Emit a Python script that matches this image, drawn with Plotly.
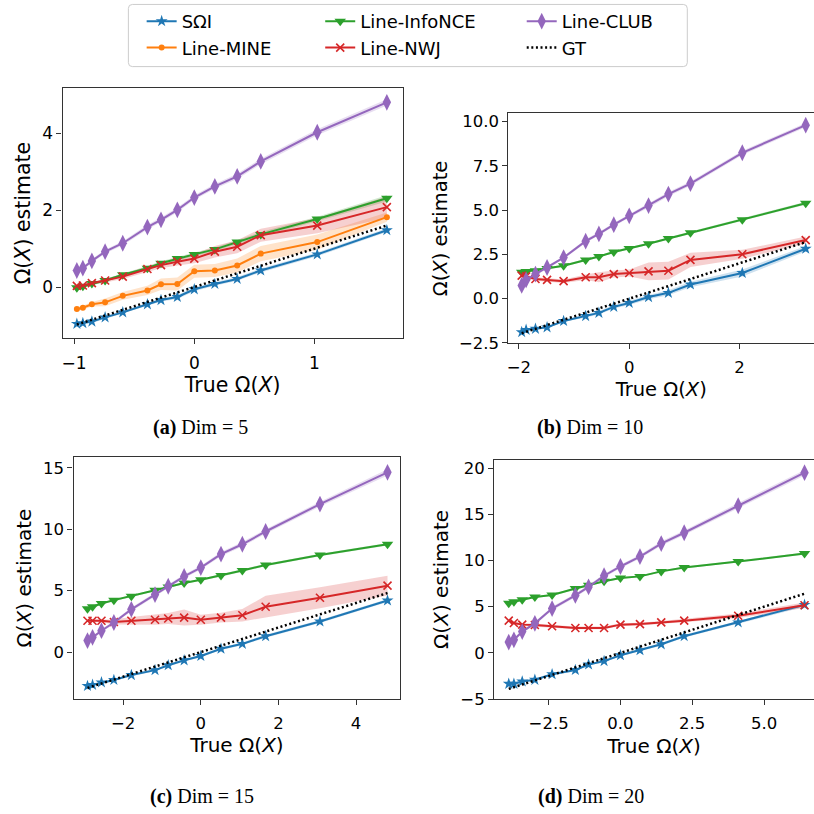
import plotly.graph_objects as go

W = H = 814

# ---- estimator colours / names -------------------------------------------
SERIES = ["SΩI", "Line-MINE", "Line-InfoNCE", "Line-NWJ", "Line-CLUB"]
COLORS = {"SΩI": "#1f77b4", "Line-MINE": "#ff7f0e", "Line-InfoNCE": "#2ca02c",
          "Line-NWJ": "#d62728", "Line-CLUB": "#9467bd"}

# ---- true Ω(X) for each dimension -----------------------------------------
true_d5 = [-0.977, -0.927, -0.852, -0.742, -0.595, -0.39, -0.277, -0.141, 0.0, 0.171, 0.357, 0.553, 1.023, 1.602]
true_d10 = [-1.95, -1.87, -1.70, -1.49, -1.19, -0.79, -0.55, -0.28, 0.0, 0.35, 0.71, 1.11, 2.05, 3.20]
true_d15 = [-2.92, -2.79, -2.56, -2.24, -1.79, -1.18, -0.84, -0.43, 0.0, 0.52, 1.07, 1.67, 3.07, 4.81]
true_d20 = [-3.89, -3.71, -3.42, -2.98, -2.38, -1.57, -1.11, -0.57, 0.0, 0.68, 1.42, 2.22, 4.10, 6.41]

# ---- mean estimates ---------------------------------------------------------
sqi_d5 = [-0.96, -0.94, -0.90, -0.79, -0.66, -0.45, -0.34, -0.26, -0.06, 0.08, 0.21, 0.43, 0.85, 1.48]
mine_d5 = [-0.57, -0.54, -0.45, -0.40, -0.23, -0.09, 0.07, 0.08, 0.41, 0.43, 0.56, 0.87, 1.17, 1.82]
infonce_d5 = [-0.02, 0.02, 0.09, 0.17, 0.32, 0.49, 0.62, 0.74, 0.85, 0.98, 1.17, 1.37, 1.77, 2.31]
nwj_d5 = [0.03, 0.04, 0.10, 0.17, 0.27, 0.47, 0.57, 0.66, 0.74, 0.92, 1.05, 1.35, 1.60, 2.08]
club_d5 = [0.43, 0.49, 0.68, 0.92, 1.14, 1.56, 1.75, 2.01, 2.33, 2.62, 2.88, 3.27, 4.03, 4.81]

sqi_d10 = [-1.89, -1.76, -1.70, -1.62, -1.26, -0.98, -0.80, -0.46, -0.24, 0.09, 0.33, 0.80, 1.45, 2.82]
infonce_d10 = [1.49, 1.53, 1.58, 1.70, 1.86, 2.19, 2.38, 2.64, 2.84, 3.10, 3.40, 3.72, 4.46, 5.39]
nwj_d10 = [1.30, 1.26, 1.11, 1.06, 0.99, 1.21, 1.21, 1.39, 1.45, 1.54, 1.58, 2.19, 2.51, 3.31]
club_d10 = [0.75, 1.06, 1.39, 1.76, 2.32, 3.25, 3.66, 4.18, 4.68, 5.26, 5.91, 6.50, 8.24, 9.80]

sqi_d15 = [-2.76, -2.67, -2.47, -2.27, -1.87, -1.47, -1.07, -0.67, -0.32, 0.27, 0.67, 1.29, 2.49, 4.20]
infonce_d15 = [3.53, 3.69, 3.96, 4.23, 4.55, 5.04, 5.30, 5.62, 5.89, 6.24, 6.64, 7.09, 7.90, 8.78]
nwj_d15 = [2.55, 2.55, 2.55, 2.45, 2.55, 2.63, 2.73, 2.81, 2.63, 2.81, 3.00, 3.69, 4.42, 5.41]
club_d15 = [0.94, 1.20, 1.74, 2.41, 3.48, 4.68, 5.36, 6.16, 6.88, 7.98, 8.78, 9.82, 12.05, 14.64]

sqi_d20 = [-3.34, -3.34, -3.09, -2.91, -2.31, -1.85, -1.25, -0.89, -0.25, 0.29, 0.93, 1.81, 3.30, 5.20]
infonce_d20 = [5.36, 5.54, 5.76, 6.04, 6.26, 6.96, 7.32, 7.75, 8.10, 8.28, 8.82, 9.24, 9.88, 10.75]
nwj_d20 = [3.49, 3.23, 3.06, 3.02, 2.88, 2.70, 2.70, 2.70, 3.06, 3.12, 3.30, 3.49, 4.02, 5.15]
club_d20 = [1.17, 1.42, 2.31, 3.20, 4.80, 6.22, 7.14, 8.35, 9.35, 10.42, 11.83, 13.00, 15.92, 19.50]

# ---- spread (half-width of shaded band) ------------------------------------
sqi_sd5 = [0.04, 0.04, 0.04, 0.04, 0.04, 0.04, 0.04, 0.05, 0.05, 0.05, 0.05, 0.05, 0.05, 0.05]
mine_sd5 = [0.05, 0.05, 0.06, 0.10, 0.10, 0.12, 0.15, 0.17, 0.17, 0.17, 0.18, 0.20, 0.20, 0.12]
infonce_sd5 = [0.04, 0.04, 0.04, 0.04, 0.04, 0.05, 0.05, 0.05, 0.05, 0.05, 0.06, 0.06, 0.06, 0.08]
nwj_sd5 = [0.03, 0.03, 0.04, 0.05, 0.06, 0.08, 0.08, 0.10, 0.12, 0.15, 0.17, 0.17, 0.20, 0.28]
club_sd5 = [0.05, 0.05, 0.05, 0.05, 0.05, 0.06, 0.06, 0.06, 0.06, 0.06, 0.07, 0.07, 0.08, 0.08]

sqi_sd10 = [0.05, 0.05, 0.05, 0.06, 0.06, 0.08, 0.10, 0.10, 0.12, 0.12, 0.14, 0.16, 0.20, 0.15]
infonce_sd10 = [0.05, 0.05, 0.05, 0.05, 0.05, 0.06, 0.06, 0.06, 0.06, 0.06, 0.07, 0.07, 0.08, 0.08]
nwj_sd10 = [0.10, 0.10, 0.10, 0.10, 0.10, 0.15, 0.28, 0.20, 0.20, 0.50, 0.50, 0.40, 0.25, 0.20]
club_sd10 = [0.08, 0.08, 0.08, 0.08, 0.08, 0.10, 0.10, 0.10, 0.10, 0.12, 0.12, 0.12, 0.12, 0.12]

sqi_sd15 = [0.08, 0.08, 0.08, 0.08, 0.10, 0.10, 0.10, 0.10, 0.10, 0.10, 0.12, 0.12, 0.12, 0.12]
infonce_sd15 = [0.08, 0.08, 0.08, 0.08, 0.08, 0.08, 0.08, 0.08, 0.08, 0.10, 0.10, 0.10, 0.10, 0.10]
nwj_sd15 = [0.10, 0.10, 0.12, 0.20, 0.30, 0.40, 0.45, 0.65, 0.40, 0.40, 0.50, 0.90, 0.85, 0.80]
club_sd15 = [0.12, 0.12, 0.12, 0.12, 0.15, 0.15, 0.15, 0.15, 0.15, 0.18, 0.18, 0.18, 0.20, 0.25]

sqi_sd20 = [0.10, 0.10, 0.10, 0.10, 0.12, 0.12, 0.12, 0.12, 0.12, 0.15, 0.15, 0.15, 0.15, 0.20]
infonce_sd20 = [0.10, 0.10, 0.10, 0.10, 0.10, 0.10, 0.10, 0.10, 0.10, 0.10, 0.10, 0.12, 0.12, 0.12]
nwj_sd20 = [0.15, 0.15, 0.15, 0.15, 0.15, 0.15, 0.15, 0.15, 0.15, 0.15, 0.15, 0.20, 0.25, 0.30]
club_sd20 = [0.15, 0.15, 0.15, 0.15, 0.20, 0.20, 0.20, 0.20, 0.20, 0.20, 0.25, 0.25, 0.30, 0.30]

# ---- tick labels -----------------------------------------------------------
xt_d5, xl_d5 = [-1, 0, 1], ["−1", "0", "1"]
yt_d5, yl_d5 = [0, 2, 4], ["0", "2", "4"]
xt_d10, xl_d10 = [-2, 0, 2], ["−2", "0", "2"]
yt_d10, yl_d10 = [-2.5, 0, 2.5, 5, 7.5, 10], ["−2.5", "0.0", "2.5", "5.0", "7.5", "10.0"]
xt_d15, xl_d15 = [-2, 0, 2, 4], ["−2", "0", "2", "4"]
yt_d15, yl_d15 = [0, 5, 10, 15], ["0", "5", "10", "15"]
xt_d20, xl_d20 = [-2.5, 0, 2.5, 5], ["−2.5", "0.0", "2.5", "5.0"]
yt_d20, yl_d20 = [-5, 0, 5, 10, 15, 20], ["−5", "0", "5", "10", "15", "20"]

captions = ["<b>(a)</b> Dim = 5", "<b>(b)</b> Dim = 10",
            "<b>(c)</b> Dim = 15", "<b>(d)</b> Dim = 20"]

# ---- panel assembly --------------------------------------------------------
def px_x(p):
    return p / W


def px_y(p):
    return 1 - p / H


panels = [
    dict(x=true_d5,
         est={"SΩI": (sqi_d5, sqi_sd5), "Line-MINE": (mine_d5, mine_sd5),
              "Line-InfoNCE": (infonce_d5, infonce_sd5), "Line-NWJ": (nwj_d5, nwj_sd5),
              "Line-CLUB": (club_d5, club_sd5)},
         xt=(xt_d5, xl_d5), yt=(yt_d5, yl_d5),
         dom=((60.7, 401.7), (88.3, 341.7)), xr=(-1.096, 1.734), yr=(-1.33, 5.18),
         mirror_y=True, cap=(199, 432), fs=(17, 20.5)),
    dict(x=true_d10,
         est={"SΩI": (sqi_d10, sqi_sd10), "Line-InfoNCE": (infonce_d10, infonce_sd10),
              "Line-NWJ": (nwj_d10, nwj_sd10), "Line-CLUB": (club_d10, club_sd10)},
         xt=(xt_d10, xl_d10), yt=(yt_d10, yl_d10),
         dom=((507.7, 814), (114, 347)), xr=(-2.19, 3.35), yr=(-2.52, 10.46),
         mirror_y=False, cap=(589, 432), fs=(16.5, 19.5)),
    dict(x=true_d15,
         est={"SΩI": (sqi_d15, sqi_sd15), "Line-InfoNCE": (infonce_d15, infonce_sd15),
              "Line-NWJ": (nwj_d15, nwj_sd15), "Line-CLUB": (club_d15, club_sd15)},
         xt=(xt_d15, xl_d15), yt=(yt_d15, yl_d15),
         dom=((71.7, 399.3), (462.7, 707.3)), xr=(-3.28, 5.14), yr=(-3.8, 15.85),
         mirror_y=True, cap=(200, 806), fs=(16.5, 20)),
    dict(x=true_d20,
         est={"SΩI": (sqi_d20, sqi_sd20), "Line-InfoNCE": (infonce_d20, infonce_sd20),
              "Line-NWJ": (nwj_d20, nwj_sd20), "Line-CLUB": (club_d20, club_sd20)},
         xt=(xt_d20, xl_d20), yt=(yt_d20, yl_d20),
         dom=((493.3, 814), (465, 707.7)), xr=(-4.4, 6.74), yr=(-5.0, 20.9),
         mirror_y=False, cap=(590, 806), fs=(16.5, 20)),
]

MARKERS = {
    "SΩI": dict(symbol="star", size=9),
    "Line-MINE": dict(symbol="circle", size=6),
    "Line-InfoNCE": dict(symbol="triangle-down", size=10),
    "Line-NWJ": dict(symbol="x-thin", size=8),
    "Line-CLUB": dict(symbol="diamond-tall", size=12),
}
LEGEND_OF = {"SΩI": "legend", "Line-MINE": "legend", "Line-InfoNCE": "legend2",
             "Line-NWJ": "legend2", "Line-CLUB": "legend3", "GT": "legend3"}


def rgba(hex_color, a):
    h = hex_color.lstrip("#")
    r, g, b = int(h[0:2], 16), int(h[2:4], 16), int(h[4:6], 16)
    return f"rgba({r},{g},{b},{a})"


fig = go.Figure()
layout_axes = {}

for i, p in enumerate(panels):
    n = "" if i == 0 else str(i + 1)
    xa, ya = "x" + n, "y" + n
    xs = p["x"]
    # shaded spread bands first
    for name in SERIES:
        if name not in p["est"]:
            continue
        m, sd = p["est"][name]
        up = [a + b for a, b in zip(m, sd)]
        lo = [a - b for a, b in zip(m, sd)]
        fig.add_trace(go.Scatter(
            x=xs + xs[::-1], y=up + lo[::-1], fill="toself",
            fillcolor=rgba(COLORS[name], 0.22), line=dict(width=0),
            hoverinfo="skip", showlegend=False, xaxis=xa, yaxis=ya))
    # mean curves
    for name in SERIES:
        if name not in p["est"]:
            continue
        m, _ = p["est"][name]
        mk = dict(MARKERS[name], color=COLORS[name])
        if name == "Line-NWJ":
            mk["line"] = dict(color=COLORS[name], width=1.6)
        fig.add_trace(go.Scatter(
            x=xs, y=m, mode="lines+markers", name=name,
            line=dict(color=COLORS[name], width=2), marker=mk,
            legendgroup=name, showlegend=(i == 0), legend=LEGEND_OF[name],
            xaxis=xa, yaxis=ya))
    # ground truth diagonal
    fig.add_trace(go.Scatter(
        x=xs, y=xs, mode="lines", name="GT",
        line=dict(color="black", width=2.5, dash="2px,2.6px"),
        legendgroup="GT", showlegend=(i == 0), legend="legend3",
        xaxis=xa, yaxis=ya))

    (x0, x1), (y0, y1) = p["dom"]
    tfs, lfs = p["fs"]
    tickfont = dict(family="DejaVu Sans", size=tfs, color="black")
    titlefont = dict(family="DejaVu Sans", size=lfs, color="black")
    common = dict(showline=True, linecolor="#333333", linewidth=1.2,
                  ticks="outside", ticklen=5, tickwidth=1.2, tickcolor="#333333",
                  showgrid=False, zeroline=False, tickfont=tickfont)
    layout_axes["xaxis" + n] = dict(
        common, domain=[px_x(x0), min(px_x(x1), 1.0)], range=list(p["xr"]),
        anchor=ya, mirror=True, ticklabelstandoff=4,
        tickvals=p["xt"][0], ticktext=p["xt"][1],
        title=dict(text="True Ω(<i>X</i>)", font=titlefont, standoff=6))
    layout_axes["yaxis" + n] = dict(
        common, domain=[px_y(y1), px_y(y0)], range=list(p["yr"]),
        anchor=xa, mirror=p["mirror_y"],
        tickvals=p["yt"][0], ticktext=p["yt"][1],
        title=dict(text="Ω(<i>X</i>) estimate", font=titlefont, standoff=6))

annotations = []
for p, cap in zip(panels, captions):
    cx, cy = p["cap"]
    annotations.append(dict(
        text=cap, x=px_x(cx), y=px_y(cy), xref="paper", yref="paper",
        showarrow=False, xanchor="center", yanchor="middle",
        font=dict(family="Liberation Serif", size=20, color="black")))

# rounded frame around the three legend columns
bx0, bx1, by0, by1, r = 126.7, 687.0, 3.5, 66.5, 4.0
frame = (f"M {px_x(bx0 + r)},{px_y(by0)} L {px_x(bx1 - r)},{px_y(by0)} "
         f"Q {px_x(bx1)},{px_y(by0)} {px_x(bx1)},{px_y(by0 + r)} "
         f"L {px_x(bx1)},{px_y(by1 - r)} Q {px_x(bx1)},{px_y(by1)} {px_x(bx1 - r)},{px_y(by1)} "
         f"L {px_x(bx0 + r)},{px_y(by1)} Q {px_x(bx0)},{px_y(by1)} {px_x(bx0)},{px_y(by1 - r)} "
         f"L {px_x(bx0)},{px_y(by0 + r)} Q {px_x(bx0)},{px_y(by0)} {px_x(bx0 + r)},{px_y(by0)} Z")

LEGFONT = dict(family="DejaVu Sans", size=18, color="black")


def legend_at(left_px):
    return dict(x=px_x(left_px), y=px_y(2), xanchor="left", yanchor="top",
                orientation="v", bgcolor="rgba(0,0,0,0)", borderwidth=0,
                font=LEGFONT, tracegroupgap=11, traceorder="normal",
                itemclick="toggle")


fig.update_layout(
    width=W, height=H, autosize=False,
    margin=dict(l=0, r=0, t=0, b=0),
    paper_bgcolor="white", plot_bgcolor="white",
    showlegend=True,
    legend=legend_at(140),
    legend2=legend_at(319),
    legend3=legend_at(521),
    annotations=annotations,
    shapes=[dict(type="path", path=frame, xref="paper", yref="paper",
                 line=dict(color="#cccccc", width=1), fillcolor="rgba(0,0,0,0)",
                 layer="above")],
    **layout_axes,
)

fig.write_html("out.html")
